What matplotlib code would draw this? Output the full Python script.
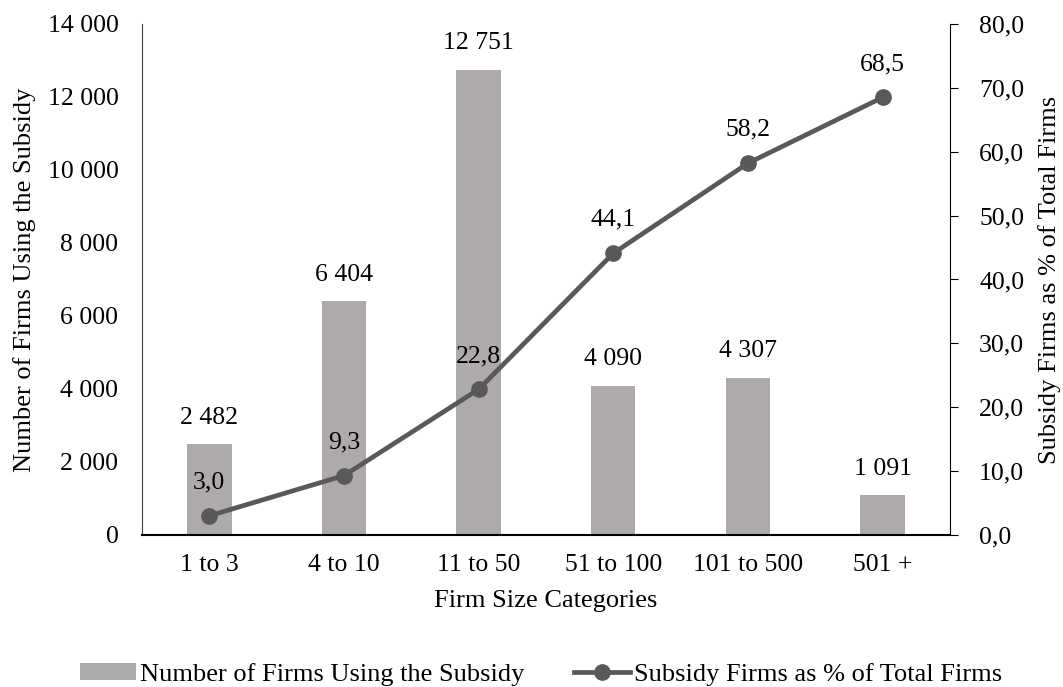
import matplotlib.pyplot as plt
import numpy as np

categories = ['1 to 3', '4 to 10', '11 to 50', '51 to 100', '101 to 500', '501 +']
firmCounts = [2482, 6404, 12751, 4090, 4307, 1091]
sharePercent = [3.0, 9.3, 22.8, 44.1, 58.2, 68.5]

barLabel = 'Number of Firms Using the Subsidy'
lineLabel = 'Subsidy Firms as % of Total Firms'


def spaceThousands(v):
    return '{:,.0f}'.format(v).replace(',', ' ')


def commaDecimal(v):
    return '{:.1f}'.format(v).replace('.', ',')


def main():
    plt.rcParams['font.family'] = ['Liberation Serif', 'DejaVu Serif']
    plt.rcParams['font.size'] = 18.5

    fig = plt.figure(figsize=(10.63, 6.87), dpi=100)
    ax = fig.add_axes([0.1336, 0.2213, 0.760, 0.7438])
    ax2 = ax.twinx()

    x = np.arange(len(categories))
    bars = ax.bar(x, firmCounts, width=0.33, color='#aeaaaa', label=barLabel, zorder=1)
    ax.set_ylim(0, 14000)
    ax.set_xlim(-0.5, len(categories) - 0.5)
    ax.set_yticks(np.arange(0, 14001, 2000))
    ax.set_yticklabels([spaceThousands(v) for v in np.arange(0, 14001, 2000)])
    ax.tick_params(axis='y', length=0, pad=17)
    ax.tick_params(axis='x', length=0, pad=14)
    ax.set_xticks(x)
    ax.set_xticklabels(categories)
    ax.set_xlabel('Firm Size Categories', labelpad=10, fontsize=19)
    ax.set_ylabel(barLabel, labelpad=8, fontsize=19)
    ax.spines['top'].set_visible(False)
    ax.spines['right'].set_visible(False)
    ax.spines['bottom'].set_linewidth(1.5)
    ax.spines['left'].set_color('#404040')

    for xi, v in zip(x, firmCounts):
        ax.annotate(spaceThousands(v), (xi, v), xytext=(0, 19), textcoords='offset points',
                    ha='center', va='center')

    line, = ax2.plot(x, sharePercent, color='#595959', linewidth=3.4, marker='o',
                     markersize=11, label=lineLabel, zorder=3)
    ax2.set_ylim(0, 80)
    ax2.set_yticks(np.arange(0, 81, 10))
    ax2.set_yticklabels([commaDecimal(v) for v in np.arange(0, 81, 10)])
    ax2.tick_params(axis='y', length=6, direction='out', pad=15)
    ax2.set_ylabel(lineLabel, labelpad=10, fontsize=19)
    ax2.spines['top'].set_visible(False)
    ax2.spines['left'].set_visible(False)
    ax2.spines['bottom'].set_visible(False)

    for xi, v in zip(x, sharePercent):
        ax2.annotate(commaDecimal(v), (xi, v), xytext=(0, 24), textcoords='offset points',
                     ha='center', va='center')

    fig.legend([bars, line], [barLabel, lineLabel], loc='center',
               bbox_to_anchor=(0.509, 0.018), ncol=2, frameon=False, fontsize=19,
               handlelength=2.1, handleheight=0.6, handletextpad=0.15, columnspacing=1.9,
               borderpad=0)

    plt.savefig('out.png', dpi=100)


if __name__ == '__main__':
    main()
